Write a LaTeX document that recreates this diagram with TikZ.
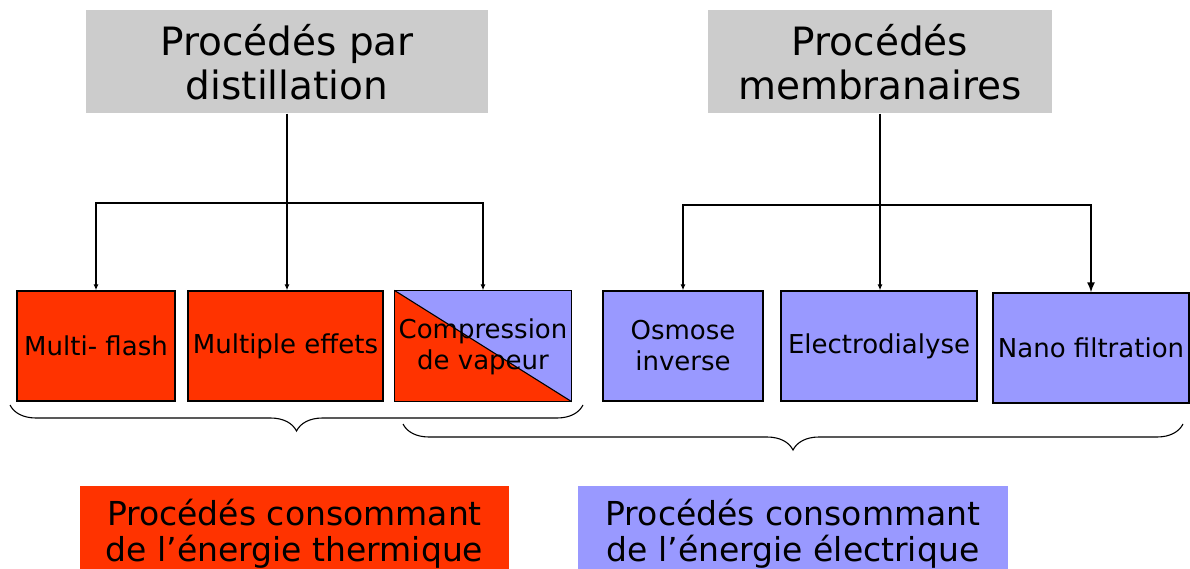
\documentclass[tikz,border=0pt]{standalone}
\usepackage{fontspec}
\setmainfont{DejaVu Sans}
\usetikzlibrary{arrows.meta,decorations.pathreplacing,calc}
\definecolor{redF}{HTML}{FF3300}
\definecolor{blueF}{HTML}{9999FF}
\definecolor{grayF}{HTML}{CCCCCC}
\begin{document}
\begin{tikzpicture}[x=1pt,y=-1pt,
  title/.style={fill=grayF,draw=none,inner sep=0pt,align=center,
     font=\fontsize{39}{44}\selectfont},
  proc/.style={draw=black,line width=1.3pt,inner sep=0pt,align=center,
     minimum height=110pt,font=\fontsize{26}{31}\selectfont},
  legend/.style={draw=none,inner sep=0pt,align=center,
     minimum height=96pt,font=\fontsize{33}{36}\selectfont},
  trunk/.style={line width=1.6pt},
  conn/.style={line width=1.4pt,-{Latex[length=6pt,width=5pt]}},
  bigconn/.style={line width=1.5pt,-{Latex[length=10pt,width=8pt]}},
  brc/.style={line width=1.1pt,decorate,decoration={brace,mirror,amplitude=26pt}}
]
\useasboundingbox (0,0) rectangle (1190,569);
% top boxes
\node[title,minimum width=402pt,minimum height=103pt] (dist) at (287,62) {Procédés par\\distillation};
\node[title,minimum width=344pt,minimum height=103pt] (memb) at (880,62) {Procédés\\membranaires};
% process boxes
\node[proc,fill=redF,minimum width=158pt] (mf) at (96,346) {Multi- flash};
\node[proc,fill=redF,minimum width=195pt] (me) at (285.5,346) {Multiple effets};
\node[proc,minimum width=176pt] (cv) at (483,346) {};
\fill[redF] (cv.north west) -- (cv.south east) -- (cv.south west) -- cycle;
\fill[blueF] (cv.north west) -- (cv.north east) -- (cv.south east) -- cycle;
\draw[line width=1.1pt] (cv.north west) -- (cv.south east);
\draw[line width=1.3pt] (cv.north west) rectangle (cv.south east);
\node[align=center,font=\fontsize{26}{31}\selectfont] (cvt) at ($(cv.center)+(0,1)$) {Compression\\de vapeur};
\node[proc,fill=blueF,minimum width=160pt] (oi) at (683,346) {Osmose\\inverse};
\node[proc,fill=blueF,minimum width=196pt] (ed) at (879,346) {Electrodialyse};
\node[proc,fill=blueF,minimum width=196pt] (nf) at (1091,348) {Nano filtration};
% connectors
\coordinate (jL) at (287,203);
\coordinate (jR) at (880,205);
\draw[trunk] (dist.south) -- (jL);
\draw[conn] (jL) -| (mf.north);
\draw[conn] (jL) -- (jL |- me.north);
\draw[conn] (jL) -| (cv.north);
\draw[trunk] (memb.south) -- (jR);
\draw[conn] (jR) -| (oi.north);
\draw[conn] (jR) -- (jR |- ed.north);
\draw[bigconn] (jR) -| (nf.north);
% braces
\coordinate (b1a) at (10,405);
\coordinate (b1b) at (583,405);
\coordinate (b2a) at (403,424);
\coordinate (b2b) at (1183,424);
\draw[brc] (b1a) -- (b1b);
\draw[brc] (b2a) -- (b2b);
% legend
\node[legend,fill=redF,minimum width=429pt] (lt) at (294.5,534) {Procédés consommant\\de l’énergie thermique};
\node[legend,fill=blueF,minimum width=430pt] (le) at (793,534) {Procédés consommant\\de l’énergie électrique};
\end{tikzpicture}
\end{document}
